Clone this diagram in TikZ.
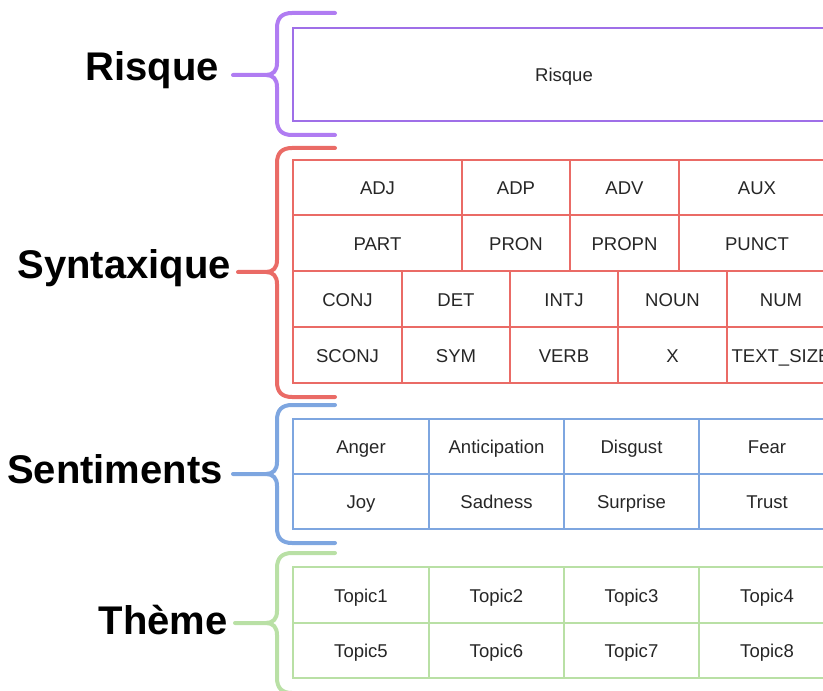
\documentclass[tikz,border=0pt]{standalone}
\usepackage{fontspec}
\setmainfont{Liberation Sans}
\definecolor{rqbrace}{HTML}{B07CF2}
\definecolor{rqline}{HTML}{9F6FE8}
\definecolor{synred}{HTML}{EA6B66}
\definecolor{sentblue}{HTML}{7EA6E0}
\definecolor{themgreen}{HTML}{B9E0A5}
\newcommand\mybrace[5]{%
  \draw[bracestyle,#1] (335,#2) -- (292,#2) .. controls (282,#2) and (277,{#2+5}) .. (277,{#2+15})
    -- (277,{#3-12}) .. controls (277,{#3-4}) and (273,#3) .. (266,#3) -- (#5,#3);
  \draw[bracestyle,#1] (266,#3) .. controls (273,#3) and (277,{#3+4}) .. (277,{#3+12})
    -- (277,{#4-15}) .. controls (277,{#4-5}) and (282,#4) .. (292,#4) -- (335,#4);}
\newcommand\tcell[6]{%
  \draw[tabline] (#1,#2) rectangle (#3,#4);
  \node[cell] (#6) at ({(#1+#3)/2},{(#2+#4)/2}) {#5};}
\begin{document}
\begin{tikzpicture}[x=0.75pt,y=-0.75pt,
  bracestyle/.style={line width=3pt,line cap=round,line join=round},
  tabline/.style={line width=0.8pt},
  cell/.style={font=\fontsize{13.9}{16}\selectfont,text=black!85,text height=1.5ex,text depth=.25ex,inner sep=0pt,yshift=-2.2pt},
  lbl/.style={font=\fontsize{30}{36}\selectfont\bfseries,text=black,anchor=base east,inner sep=0pt}]
\useasboundingbox (0,0) rectangle (823,691);
\clip (0,0) rectangle (823,691);
% labels
\node[lbl] (lRisque) at (219,81) {Risque};
\node[lbl] (lSyn) at (231,278) {Syntaxique};
\node[lbl] (lSent) at (223,483) {Sentiments};
\node[lbl] (lTheme) at (228,634) {Thème};
% braces
\mybrace{rqbrace}{13}{75}{135}{233}
\mybrace{synred}{148}{272}{397}{238}
\mybrace{sentblue}{405}{474}{543}{233}
\mybrace{themgreen}{553}{623}{693}{235}
% Risque
\begin{scope}[color=rqline]
\tcell{293}{28}{835}{121}{Risque}{rq}
\end{scope}
% Syntaxique
\begin{scope}[color=synred]
\tcell{293}{160}{462}{215}{ADJ}{s11}
\tcell{462}{160}{570}{215}{ADP}{s12}
\tcell{570}{160}{679}{215}{ADV}{s13}
\tcell{679}{160}{835}{215}{AUX}{s14}
\tcell{293}{215}{462}{271}{PART}{s21}
\tcell{462}{215}{570}{271}{PRON}{s22}
\tcell{570}{215}{679}{271}{PROPN}{s23}
\tcell{679}{215}{835}{271}{PUNCT}{s24}
\tcell{293}{271}{402}{327}{CONJ}{s31}
\tcell{402}{271}{510}{327}{DET}{s32}
\tcell{510}{271}{618}{327}{INTJ}{s33}
\tcell{618}{271}{727}{327}{NOUN}{s34}
\tcell{727}{271}{835}{327}{NUM}{s35}
\tcell{293}{327}{402}{383}{SCONJ}{s41}
\tcell{402}{327}{510}{383}{SYM}{s42}
\tcell{510}{327}{618}{383}{VERB}{s43}
\tcell{618}{327}{727}{383}{X}{s44}
\tcell{727}{327}{835}{383}{TEXT\_SIZE}{s45}
\end{scope}
% Sentiments
\begin{scope}[color=sentblue]
\tcell{293}{419}{429}{474}{Anger}{e11}
\tcell{429}{419}{564}{474}{Anticipation}{e12}
\tcell{564}{419}{699}{474}{Disgust}{e13}
\tcell{699}{419}{835}{474}{Fear}{e14}
\tcell{293}{474}{429}{529}{Joy}{e21}
\tcell{429}{474}{564}{529}{Sadness}{e22}
\tcell{564}{474}{699}{529}{Surprise}{e23}
\tcell{699}{474}{835}{529}{Trust}{e24}
\end{scope}
% Theme
\begin{scope}[color=themgreen]
\tcell{293}{567}{429}{623}{Topic1}{t11}
\tcell{429}{567}{564}{623}{Topic2}{t12}
\tcell{564}{567}{699}{623}{Topic3}{t13}
\tcell{699}{567}{835}{623}{Topic4}{t14}
\tcell{293}{623}{429}{678}{Topic5}{t21}
\tcell{429}{623}{564}{678}{Topic6}{t22}
\tcell{564}{623}{699}{678}{Topic7}{t23}
\tcell{699}{623}{835}{678}{Topic8}{t24}
\end{scope}
\end{tikzpicture}
\end{document}
